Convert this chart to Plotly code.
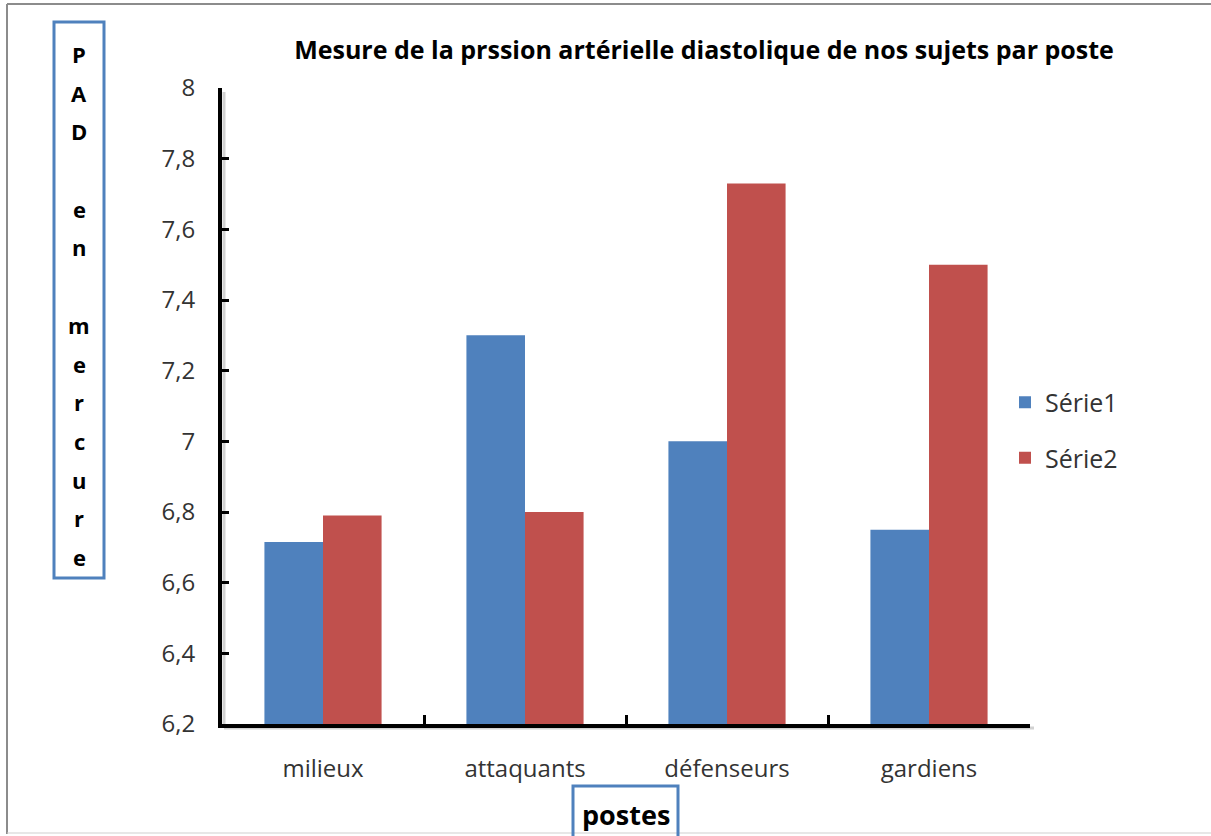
import plotly.graph_objects as go

# Diastolic blood pressure by playing position
postes = ["milieux", "attaquants", "défenseurs", "gardiens"]
serie1 = [6.715, 7.30, 7.00, 6.75]
serie2 = [6.79, 6.80, 7.73, 7.50]
y_ticks = [6.2, 6.4, 6.6, 6.8, 7.0, 7.2, 7.4, 7.6, 7.8, 8.0]

title_text = "Mesure de la prssion artérielle diastolique de nos sujets par poste"
y_title_letters = ["P", "A", "D", "", "e", "n", "", "m", "e", "r", "c", "u", "r", "e"]
x_title_text = "postes"

BLUE = "#4F81BD"
RED = "#C0504D"
FONT = "'Open Sans', Lato, sans-serif"

W, H = 1211, 836
L, R, T, B = 222, 1030, 88, 724  # plot area in pixels
PW, PH = R - L, B - T


def px(x):
    return (x - L) / PW


def py(y):
    return (B - y) / PH


fig = go.Figure()
fig.add_trace(go.Bar(name="Série1", x=postes, y=serie1, marker_color=BLUE,
                     marker_line_width=0, legendgroup="s1"))
fig.add_trace(go.Bar(name="Série2", x=postes, y=serie2, marker_color=RED,
                     marker_line_width=0, legendgroup="s2"))

shapes = []
# outer frame lines
shapes.append(dict(type="line", xref="paper", yref="paper", x0=px(7), x1=px(7),
                   y0=py(4), y1=py(834), line=dict(color="#8c8c8c", width=2), layer="below"))
shapes.append(dict(type="line", xref="paper", yref="paper", x0=px(7), x1=px(1211),
                   y0=py(4), y1=py(4), line=dict(color="#8c8c8c", width=2), layer="below"))
shapes.append(dict(type="line", xref="paper", yref="paper", x0=px(7), x1=px(1211),
                   y0=py(833), y1=py(833), line=dict(color="#cfcfcf", width=1), layer="below"))
# soft shadows under the axis lines
shapes.append(dict(type="line", xref="paper", yref="paper", x0=px(224), x1=px(1034),
                   y0=py(728), y1=py(728), line=dict(color="rgba(0,0,0,0.18)", width=3), layer="below"))
shapes.append(dict(type="line", xref="paper", yref="paper", x0=px(224), x1=px(224),
                   y0=py(92), y1=py(728), line=dict(color="rgba(0,0,0,0.18)", width=3), layer="below"))
# box around the vertical y title
shapes.append(dict(type="rect", xref="paper", yref="paper", x0=px(54), x1=px(104),
                   y0=py(578), y1=py(22), line=dict(color=BLUE, width=3)))
# box around the x title
shapes.append(dict(type="rect", xref="paper", yref="paper", x0=px(573), x1=px(678),
                   y0=py(840), y1=py(786), line=dict(color=BLUE, width=3)))

annotations = []
# stacked letters of the y title
y_first, y_last = 54, 557
step = (y_last - y_first) / (len(y_title_letters) - 1)
for i, ch in enumerate(y_title_letters):
    if not ch:
        continue
    annotations.append(dict(text=f"<b>{ch}</b>", xref="paper", yref="paper",
                            x=px(79), y=py(y_first + i * step), showarrow=False,
                            xanchor="center", yanchor="middle",
                            font=dict(family=FONT, size=22, color="#000000")))
annotations.append(dict(text=f"<b>{x_title_text}</b>", xref="paper", yref="paper",
                        x=px(626), y=py(814), showarrow=False,
                        xanchor="center", yanchor="middle",
                        font=dict(family=FONT, size=27, color="#000000")))

fig.update_layout(
    width=W, height=H,
    margin=dict(l=L, r=W - R, t=T, b=H - B, pad=0),
    paper_bgcolor="white", plot_bgcolor="white",
    separators=", ",
    barmode="group", bargap=0.42, bargroupgap=0,
    title=dict(text=f"<b>{title_text}</b>", xref="container", x=704 / W,
               xanchor="center", y=1 - 50 / H, yanchor="middle",
               font=dict(family=FONT, size=25, color="#000000")),
    font=dict(family=FONT, size=24, color="#333333"),
    showlegend=True,
    legend=dict(x=px(1005), y=py(430), xanchor="left", yanchor="middle",
                font=dict(family=FONT, size=25, color="#333333"),
                tracegroupgap=20, traceorder="grouped", bgcolor="rgba(0,0,0,0)"),
    shapes=shapes,
    annotations=annotations,
)

fig.update_yaxes(range=[6.2, 8.0], tickvals=y_ticks, tickformat=".1f",
                 showgrid=False, zeroline=False,
                 showline=True, linecolor="black", linewidth=4,
                 ticks="inside", ticklen=7, tickwidth=3, tickcolor="black",
                 ticklabelstandoff=18,
                 tickfont=dict(family=FONT, size=24, color="#333333"))
fig.update_xaxes(showgrid=False, zeroline=False,
                 showline=True, linecolor="black", linewidth=4,
                 ticks="inside", tickson="boundaries", ticklen=9, tickwidth=3,
                 tickcolor="black", ticklabelstandoff=20,
                 tickfont=dict(family=FONT, size=24, color="#333333"))

# labels of whole numbers are shown without decimals (8, 7)
fig.update_yaxes(ticktext=[("%g" % v).replace(".", ",") for v in y_ticks])

fig.write_html("out.html")
